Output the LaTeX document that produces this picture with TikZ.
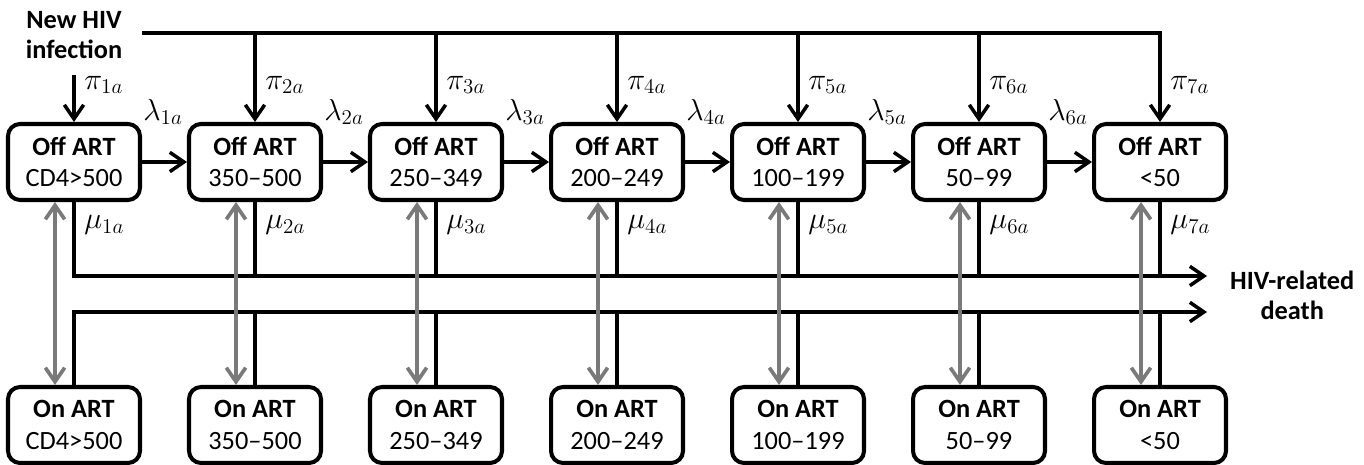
\documentclass[tikz,border=0pt]{standalone}
\usepackage{fontspec}
\setmainfont{Carlito}
\usetikzlibrary{arrows.meta}

\tikzset{
  state/.style={draw,line width=2.3pt,rounded corners=0.24cm,
    minimum width=2.64cm,minimum height=1.52cm,align=center,
    font=\fontsize{15}{18}\selectfont},
  flow/.style={line width=2pt,-{Straight Barb[length=8pt,width=11pt]}},
  plain/.style={line width=2pt},
  switch/.style={line width=2.1pt,draw=black!52,
    {Straight Barb[length=8pt,width=11pt]}-{Straight Barb[length=8pt,width=11pt]}},
  rate/.style={anchor=west,inner sep=0pt,font=\fontsize{18.5}{21}\selectfont},
  caption/.style={align=center,font=\fontsize{15}{17}\selectfont\bfseries}
}

\begin{document}
\begin{tikzpicture}[x=0.02cm,y=-0.02cm]
  \useasboundingbox (0,0) rectangle (1364,465);

  % states off and on treatment
  \foreach \i/\cd in {1/CD4>500,2/350--500,3/250--349,4/200--249,
                      5/100--199,6/50--99,7/<50} {
    \node[state] (off\i) at ({74+181*(\i-1)},162) {\textbf{Off ART}\\\cd};
    \node[state] (on\i) at ({74+181*(\i-1)},425) {\textbf{On ART}\\\cd};
  }

  \node[caption] (newhiv) at (74,35) {New HIV\\infection};
  \node[caption,anchor=west] (death) at (1224,295) {HIV-related\\death};

  \coordinate (feed) at (142,33);
  \coordinate (entry) at (74,75);
  \coordinate (dead1) at (1207,276);
  \coordinate (dead2) at (1207,312);

  % new infections
  \draw[flow] (entry) -- (off1);
  \draw[flow] (feed) -| (off7);
  \foreach \i in {2,...,6}
    \draw[flow] (off\i.north |- feed) -- (off\i);

  % progression
  \foreach \i [evaluate=\i as \j using int(\i+1)] in {1,...,6}
    \draw[flow] (off\i) -- (off\j);

  % deaths
  \draw[flow] (off1.south) |- (dead1);
  \draw[flow] (on1.north) |- (dead2);
  \foreach \i in {2,...,7} {
    \draw[plain] (off\i.south) -- (off\i.south |- dead1);
    \draw[plain] (on\i.north) -- (on\i.north |- dead2);
  }

  % treatment start and stop
  \foreach \i in {1,...,7}
    \draw[switch] ([xshift=-0.38cm]off\i.south) -- ([xshift=-0.38cm]on\i.north);

  % rates
  \foreach \i in {1,...,7} {
    \node[rate] (pi\i) at ({74+181*(\i-1)+10},85) {$\pi_{\i a}$};
    \node[rate] (mu\i) at ({74+181*(\i-1)+10},225) {$\mu_{\i a}$};
  }
  \foreach \i in {1,...,6}
    \node[rate] (la\i) at ({74+181*(\i-1)+69},112) {$\lambda_{\i a}$};
\end{tikzpicture}
\end{document}
